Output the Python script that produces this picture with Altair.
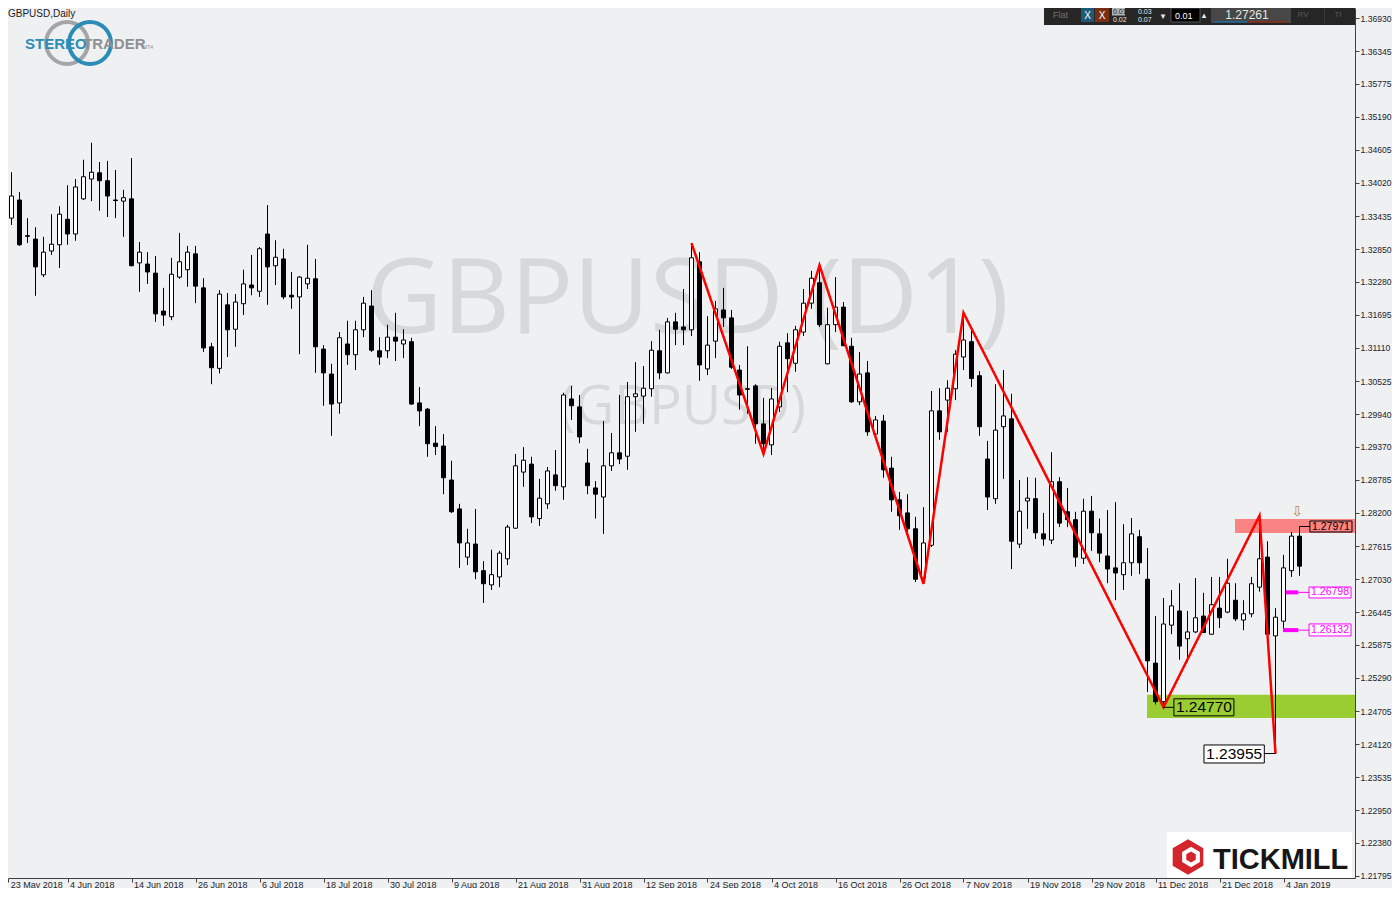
import altair as alt
import pandas as pd

# ---------------- data (GBPUSD daily) ----------------
OPEN = [1.3423, 1.3340, 1.3372, 1.3309, 1.3303, 1.3240, 1.3282, 1.3293, 1.3338, 1.3312,
        1.3374, 1.3409, 1.3420, 1.3406, 1.3372, 1.3370, 1.3374, 1.3261, 1.3259, 1.3243,
        1.3176, 1.3166, 1.3236, 1.3249, 1.3277, 1.3217, 1.3113, 1.3075, 1.3187, 1.3144,
        1.3189, 1.3222, 1.3211, 1.3312, 1.3256, 1.3268, 1.3204, 1.3201, 1.3224, 1.3233,
        1.3109, 1.3065, 1.3014, 1.3118, 1.3099, 1.3143, 1.3185, 1.3106, 1.3106, 1.3130,
        1.3118, 1.3122, 1.3014, 1.3003, 1.2943, 1.2938, 1.2878, 1.2827, 1.2742, 1.2765,
        1.2718, 1.2693, 1.2707, 1.2739, 1.2793, 1.2892, 1.2906, 1.2810, 1.2836, 1.2887,
        1.2866, 1.3021, 1.3007, 1.2908, 1.2864, 1.2848, 1.2903, 1.2926, 1.2920, 1.3025,
        1.3026, 1.3039, 1.3106, 1.3067, 1.3157, 1.3148, 1.3143, 1.3263, 1.3074, 1.3123,
        1.3178, 1.3164, 1.3072, 1.3039, 1.3044, 1.2977, 1.2940, 1.3007, 1.3120, 1.3084,
        1.3139, 1.3190, 1.3226, 1.3083, 1.3152, 1.3183, 1.3114, 1.3016, 1.3067, 1.2959,
        1.2982, 1.2899, 1.2843, 1.2820, 1.2792, 1.2705, 1.2763, 1.3000, 1.3019, 1.3039,
        1.3095, 1.3122, 1.3062, 1.2915, 1.2845, 1.2972, 1.2986, 1.2765, 1.2841, 1.2845,
        1.2783, 1.2772, 1.2875, 1.2822, 1.2808, 1.2740, 1.2823, 1.2783, 1.2744, 1.2723,
        1.2711, 1.2732, 1.2778, 1.2703, 1.2555, 1.2487, 1.2622, 1.2647, 1.2598, 1.2610,
        1.2638, 1.2606, 1.2652, 1.2645, 1.2666, 1.2631, 1.2642, 1.2689, 1.2742, 1.2603,
        1.2629, 1.2718, 1.2779]
HIGH = [1.3443, 1.3421, 1.3386, 1.3340, 1.3324, 1.3307, 1.3347, 1.3361, 1.3398, 1.3409,
        1.3443, 1.3473, 1.3439, 1.3441, 1.3425, 1.3390, 1.3446, 1.3298, 1.3280, 1.3273,
        1.3217, 1.3270, 1.3314, 1.3291, 1.3291, 1.3234, 1.3120, 1.3213, 1.3208, 1.3206,
        1.3249, 1.3275, 1.3289, 1.3363, 1.3301, 1.3286, 1.3245, 1.3238, 1.3293, 1.3268,
        1.3116, 1.3083, 1.3139, 1.3159, 1.3159, 1.3201, 1.3213, 1.3130, 1.3152, 1.3173,
        1.3144, 1.3129, 1.3042, 1.3005, 1.2973, 1.2959, 1.2912, 1.2836, 1.2792, 1.2827,
        1.2735, 1.2755, 1.2753, 1.2799, 1.2924, 1.2936, 1.2919, 1.2880, 1.2901, 1.2931,
        1.3032, 1.3044, 1.3028, 1.2933, 1.2876, 1.2982, 1.2961, 1.3028, 1.3051, 1.3086,
        1.3079, 1.3123, 1.3143, 1.3164, 1.3173, 1.3215, 1.3296, 1.3280, 1.3167, 1.3194,
        1.3217, 1.3178, 1.3081, 1.3114, 1.3047, 1.3023, 1.3040, 1.3122, 1.3137, 1.3150,
        1.3215, 1.3247, 1.3257, 1.3182, 1.3236, 1.3192, 1.3129, 1.3104, 1.3088, 1.2991,
        1.2993, 1.2919, 1.2857, 1.2853, 1.2813, 1.2830, 1.3035, 1.3040, 1.3054, 1.3107,
        1.3173, 1.3148, 1.3070, 1.2947, 1.3047, 1.3072, 1.3030, 1.2878, 1.2883, 1.2882,
        1.2820, 1.2927, 1.2883, 1.2864, 1.2822, 1.2845, 1.2850, 1.2810, 1.2825, 1.2839,
        1.2800, 1.2811, 1.2790, 1.2758, 1.2638, 1.2670, 1.2684, 1.2696, 1.2647, 1.2705,
        1.2679, 1.2707, 1.2707, 1.2739, 1.2696, 1.2666, 1.2707, 1.2815, 1.2770, 1.2652,
        1.2746, 1.2786, 1.2795]
LOW = [1.3305, 1.3328, 1.3291, 1.3296, 1.3203, 1.3236, 1.3275, 1.3252, 1.3293, 1.3300,
       1.3372, 1.3370, 1.3353, 1.3342, 1.3340, 1.3307, 1.3255, 1.3210, 1.3224, 1.3157,
       1.3150, 1.3160, 1.3233, 1.3219, 1.3190, 1.3104, 1.3047, 1.3066, 1.3095, 1.3113,
       1.3169, 1.3204, 1.3201, 1.3187, 1.3222, 1.3197, 1.3180, 1.3100, 1.3215, 1.3067,
       1.3009, 1.2956, 1.2995, 1.3081, 1.3072, 1.3130, 1.3104, 1.3081, 1.3093, 1.3088,
       1.3093, 1.3011, 1.2973, 1.2919, 1.2922, 1.2853, 1.2820, 1.2723, 1.2728, 1.2703,
       1.2661, 1.2684, 1.2689, 1.2728, 1.2792, 1.2866, 1.2802, 1.2797, 1.2827, 1.2859,
       1.2843, 1.2984, 1.2943, 1.2853, 1.2810, 1.2783, 1.2894, 1.2906, 1.2896, 1.2963,
       1.2977, 1.3025, 1.3056, 1.3066, 1.3116, 1.3116, 1.3132, 1.3053, 1.3063, 1.3093,
       1.3148, 1.3074, 1.3002, 1.2995, 1.2942, 1.2924, 1.2922, 1.2998, 1.3033, 1.3069,
       1.3132, 1.3180, 1.3148, 1.3082, 1.3139, 1.3114, 1.3014, 1.3010, 1.2956, 1.2954,
       1.2882, 1.2822, 1.2790, 1.2781, 1.2698, 1.2695, 1.2760, 1.2949, 1.2963, 1.3019,
       1.3072, 1.3042, 1.2956, 1.2825, 1.2836, 1.2880, 1.2721, 1.2758, 1.2792, 1.2774,
       1.2762, 1.2765, 1.2795, 1.2795, 1.2725, 1.2730, 1.2753, 1.2733, 1.2696, 1.2666,
       1.2684, 1.2709, 1.2712, 1.2504, 1.2482, 1.2477, 1.2606, 1.2561, 1.2557, 1.2608,
       1.2608, 1.2605, 1.2617, 1.2643, 1.2629, 1.2613, 1.2636, 1.2681, 1.2596, 1.23955,
       1.2613, 1.2707, 1.2709]
CLOSE = [1.3349, 1.3379, 1.3293, 1.3308, 1.3254, 1.3280, 1.3294, 1.3347, 1.3312, 1.3395,
         1.3413, 1.3421, 1.3406, 1.3379, 1.3371, 1.3376, 1.3256, 1.3280, 1.3245, 1.3171,
         1.3169, 1.3241, 1.3263, 1.3280, 1.3220, 1.3111, 1.3076, 1.3206, 1.3143, 1.3192,
         1.3224, 1.3217, 1.3286, 1.3254, 1.3271, 1.3201, 1.3201, 1.3236, 1.3234, 1.3113,
         1.3067, 1.3012, 1.3129, 1.3099, 1.3143, 1.3190, 1.3107, 1.3095, 1.3130, 1.3123,
         1.3125, 1.3012, 1.3000, 1.2942, 1.2937, 1.2882, 1.2822, 1.2767, 1.2767, 1.2716,
         1.2695, 1.2711, 1.2749, 1.2795, 1.2903, 1.2913, 1.2813, 1.2846, 1.2894, 1.2868,
         1.3028, 1.3009, 1.2954, 1.2868, 1.2853, 1.2903, 1.2926, 1.2915, 1.3025, 1.3030,
         1.3040, 1.3107, 1.3067, 1.3157, 1.3144, 1.3143, 1.3270, 1.3081, 1.3116, 1.3180,
         1.3164, 1.3077, 1.3028, 1.3038, 1.2977, 1.2942, 1.3021, 1.3114, 1.3092, 1.3143,
         1.3190, 1.3234, 1.3152, 1.3152, 1.3183, 1.3115, 1.3016, 1.3065, 1.2963, 1.2984,
         1.2896, 1.2843, 1.2815, 1.2792, 1.2703, 1.2767, 1.3000, 1.2963, 1.3040, 1.3100,
         1.3125, 1.3057, 1.2972, 1.2848, 1.2966, 1.2991, 1.2770, 1.2823, 1.2846, 1.2785,
         1.2774, 1.2875, 1.2802, 1.2808, 1.2742, 1.2823, 1.2785, 1.2749, 1.2721, 1.2714,
         1.2732, 1.2783, 1.2732, 1.2559, 1.2487, 1.2624, 1.2656, 1.2585, 1.2610, 1.2635,
         1.2609, 1.2658, 1.2635, 1.2696, 1.2633, 1.2642, 1.2695, 1.2739, 1.2606, 1.2636,
         1.2723, 1.2779, 1.2726]

DATE_LABELS = ["23 May 2018", "4 Jun 2018", "14 Jun 2018", "26 Jun 2018", "6 Jul 2018",
               "18 Jul 2018", "30 Jul 2018", "9 Aug 2018", "21 Aug 2018", "31 Aug 2018",
               "12 Sep 2018", "24 Sep 2018", "4 Oct 2018", "16 Oct 2018", "26 Oct 2018",
               "7 Nov 2018", "19 Nov 2018", "29 Nov 2018", "11 Dec 2018", "21 Dec 2018",
               "4 Jan 2019"]
X_TICK_POS = [0.6] + [8 * k for k in range(1, 21)]
Y_TICKS = [1.36930, 1.36345, 1.35775, 1.35190, 1.34605, 1.34020, 1.33435, 1.32850,
           1.32280, 1.31695, 1.31110, 1.30525, 1.29940, 1.29370, 1.28785, 1.28200,
           1.27615, 1.27030, 1.26445, 1.25875, 1.25290, 1.24705, 1.24120, 1.23535,
           1.22950, 1.22380, 1.21795]

ZZ_IDX = [86, 95, 102, 115, 120, 145, 157, 159]
ZZ_PRICE = [1.3296, 1.2924, 1.3257, 1.2695, 1.3173, 1.2477, 1.2815, 1.23955]

# zones: index start, price low, price high, colour
ZONE_I0 = [142.94, 153.94]
ZONE_P0 = [1.2458, 1.27845]
ZONE_P1 = [1.2499, 1.28092]
ZONE_COL = ["#9acd32", "#fa8484"]

# price label boxes
BOX_I0 = [146.3, 150.06, 163.3, 163.19, 163.19]
BOX_I1 = [153.8, 157.6, 168.56, 168.44, 168.44]
BOX_P0 = [1.2462, 1.23788, 1.27863, 1.26699, 1.26029]
BOX_P1 = [1.2492, 1.24106, 1.28057, 1.26893, 1.26241]
BOX_FILL = ["transparent", "white", "transparent", "white", "white"]
BOX_STROKE = ["black", "black", "black", "#ff00ff", "#ff00ff"]
BOX_TEXT = ["1.24770", "1.23955", "1.27971", "1.26798", "1.26132"]
BOX_TEXT_COL = ["black", "black", "black", "#ff00ff", "#ff00ff"]
BOX_FS = [15.5, 15.5, 10.5, 10.5, 10.5]
BOX_TEXT_P = [1.24770, 1.23955, 1.27960, 1.26798, 1.26132]

# magenta level markers
MAG_I0 = [160.27, 159.94]
MAG_I1 = [161.85, 161.85]
MAG_P = [1.26798, 1.26132]

# ---------------- scales / axes ----------------
W, H = 1347, 870
xs = alt.Scale(domain=[0.5625, 168.9375], nice=False, zero=False, padding=0)
ys = alt.Scale(domain=[1.217592, 1.371069], nice=False, zero=False, padding=0)

LBL_FONT = "Liberation Sans"
label_expr = "[" + ",".join("'%s'" % s for s in DATE_LABELS) + "][round(datum.value/8)]"
x_axis = alt.Axis(values=X_TICK_POS, labelExpr=label_expr, title=None, grid=False,
                  tickSize=4, labelAlign="left", labelBaseline="alphabetic", labelPadding=5,
                  labelOffset=2, labelFont=LBL_FONT, labelFontSize=9, labelColor="#1e1e2a",
                  domainColor="#404040", tickColor="#404040", labelOverlap=False,
                  labelFlush=False, labelBound=False)
y_axis = alt.Axis(orient="right", values=Y_TICKS, format=".5f", title=None, grid=False,
                  tickSize=4, labelPadding=1, labelFont=LBL_FONT, labelFontSize=8.6,
                  labelColor="#1e1e2a", domainColor="#404040", tickColor="#404040",
                  labelOverlap=False, labelFlush=False, labelBound=False)


def X(f):
    return alt.X(f, type="quantitative", scale=xs, axis=x_axis)


def Y(f):
    return alt.Y(f, type="quantitative", scale=ys, axis=y_axis)


df = pd.DataFrame({"i": list(range(len(OPEN))), "open": OPEN, "high": HIGH,
                   "low": LOW, "close": CLOSE})
ONE = pd.DataFrame({"a": [0]})


def px_text(x, y, text, size, color, font=LBL_FONT, weight="normal", align="left",
            baseline="middle"):
    return alt.Chart(ONE).mark_text(text=text, fontSize=size, color=color, font=font,
                                    fontWeight=weight, align=align,
                                    baseline=baseline).encode(x=alt.value(x), y=alt.value(y))


def px_rect(x1, y1, x2, y2, fill, stroke=None, sw=1):
    kw = dict(fill=fill)
    if stroke:
        kw.update(stroke=stroke, strokeWidth=sw)
    return alt.Chart(ONE).mark_rect(**kw).encode(x=alt.value(x1), x2=alt.value(x2),
                                                 y=alt.value(y1), y2=alt.value(y2))


def px_point(x, y, shape, size, fill=None, stroke=None, sw=1):
    kw = dict(shape=shape, size=size, opacity=1)
    if fill:
        kw.update(filled=True, fill=fill, strokeWidth=0)
    else:
        kw.update(filled=False, stroke=stroke, strokeWidth=sw)
    return alt.Chart(ONE).mark_point(**kw).encode(x=alt.value(x), y=alt.value(y))


layers = []

# watermark
layers.append(px_text(679.5, 325, "GBPUSD (D1)", 105, "#d6d8da", font="Open Sans",
                      align="center", baseline="alphabetic"))
layers.append(px_text(674.5, 416, "(GBPUSD)", 54, "#d6d8da", font="Open Sans",
                      align="center", baseline="alphabetic"))

# zones
zones = pd.DataFrame({"i0": ZONE_I0, "i1": [169.5, 169.5], "p0": ZONE_P0, "p1": ZONE_P1,
                      "col": ZONE_COL})
layers.append(alt.Chart(zones).mark_rect(clip=True).encode(
    x=X("i0"), x2="i1", y=Y("p0"), y2="p1", fill=alt.Fill("col:N", scale=None)))

# candles
layers.append(alt.Chart(df).mark_rule(color="black", strokeWidth=1, clip=True).encode(
    x=X("i"), y=Y("low"), y2="high"))
layers.append(alt.Chart(df).mark_bar(width=4, stroke="black", strokeWidth=1,
                                     orient="vertical", clip=True).encode(
    x=X("i"), y=Y("open"), y2="close",
    fill=alt.condition("datum.close >= datum.open", alt.value("white"), alt.value("black"))))

# zigzag
zz = pd.DataFrame({"zi": ZZ_IDX, "zp": ZZ_PRICE})
layers.append(alt.Chart(zz).mark_line(color="#ff0000", strokeWidth=2.5).encode(
    x=X("zi"), y=Y("zp"), order="zi:Q"))

# connectors
conn = pd.DataFrame({
    "g": [0, 0, 1, 1, 2, 2, 2],
    "k": [0, 1, 0, 1, 0, 1, 2],
    "ci": [145, 146.3, 157.6, 159, 162, 162, 163.3],
    "cp": [1.2477, 1.2477, 1.23955, 1.23955, 1.27845, 1.27960, 1.27960]})
layers.append(alt.Chart(conn).mark_line(color="black", strokeWidth=1).encode(
    x=X("ci"), y=Y("cp"), detail="g:N", order="k:Q"))

# magenta levels
mag = pd.DataFrame({"m0": MAG_I0, "m1": MAG_I1, "mp": MAG_P})
layers.append(alt.Chart(mag).mark_rule(color="#ff00ff", strokeWidth=4).encode(
    x=X("m0"), x2="m1", y=Y("mp")))
mag2 = pd.DataFrame({"m0": MAG_I1, "m1": [163.19, 163.19], "mp": MAG_P})
layers.append(alt.Chart(mag2).mark_rule(color="#ff00ff", strokeWidth=1).encode(
    x=X("m0"), x2="m1", y=Y("mp")))

# label boxes + texts
boxes = pd.DataFrame({"b0": BOX_I0, "b1": BOX_I1, "q0": BOX_P0, "q1": BOX_P1,
                      "fill": BOX_FILL, "stroke": BOX_STROKE})
layers.append(alt.Chart(boxes).mark_rect(strokeWidth=1).encode(
    x=X("b0"), x2="b1", y=Y("q0"), y2="q1",
    fill=alt.Fill("fill:N", scale=None), stroke=alt.Stroke("stroke:N", scale=None)))
labs = pd.DataFrame({"li": [(a + b) / 2 for a, b in zip(BOX_I0, BOX_I1)], "lp": BOX_TEXT_P,
                     "txt": BOX_TEXT, "col": BOX_TEXT_COL, "fs": BOX_FS})
layers.append(alt.Chart(labs).mark_text(font=LBL_FONT, align="center", baseline="middle").encode(
    x=X("li"), y=Y("lp"), text="txt:N", color=alt.Color("col:N", scale=None),
    size=alt.Size("fs:Q", scale=None)))

# arrow
arr = pd.DataFrame({"ai": [161.7], "ap": [1.2822], "t": ["\u21e9"]})
layers.append(alt.Chart(arr).mark_text(font="DejaVu Sans", fontSize=14, color="#b8884a").encode(
    x=X("ai"), y=Y("ap"), text="t:N"))

# ---------------- decorations ----------------
layers.append(px_text(0, 1, "GBPUSD,Daily", 10, "#1a1a1a", baseline="top"))

# StereoTrader logo
layers.append(px_point(59, 35, "circle", 1764, stroke="#a3a5a7", sw=4))
layers.append(px_point(82, 35, "circle", 1764, stroke="#2b8db6", sw=4))
layers.append(px_text(17, 41, "STEREO", 15, "#2b8db6", weight="bold", baseline="alphabetic"))
layers.append(px_text(75, 41, "TRADER", 15, "#8e9092", weight="bold", baseline="alphabetic"))
layers.append(px_text(135, 41, "MT4", 5, "#8e9092", baseline="alphabetic"))

# Tickmill logo
HEX = "M0,-1L0.866,-0.5L0.866,0.5L0,1L-0.866,0.5L-0.866,-0.5Z"
layers.append(px_rect(1159, 824, 1344, 870, "white"))
layers.append(px_point(1180, 849, HEX, 1250, fill="#d4252c"))
layers.append(px_point(1183, 849, HEX, 420, fill="white"))
layers.append(px_point(1183, 849, HEX, 120, fill="#d4252c"))
layers.append(px_text(1205, 861, "TICKMILL", 29, "#161616", weight="bold", baseline="alphabetic"))

# top-right trading widget
layers.append(px_rect(1036, 0, 1347, 17, "#262626"))
layers.append(px_text(1045, 7, "Flat", 9, "#707070"))
layers.append(px_rect(1073, 0, 1086, 14, "#1c5a78"))
layers.append(px_text(1079.5, 7.5, "X", 10, "white", align="center"))
layers.append(px_rect(1087, 0, 1101, 14, "#7a2e14"))
layers.append(px_text(1094, 7.5, "X", 10, "white", align="center"))
layers.append(px_rect(1104, 0, 1117, 7.5, "#b4b4b4"))
layers.append(px_text(1105, 4.2, "0.01", 7, "#202020"))
layers.append(px_text(1105, 12.2, "0.02", 7, "#e8e8e8"))
layers.append(px_text(1130, 4.2, "0.03", 7, "#e8e8e8"))
layers.append(px_text(1130, 12.2, "0.07", 7, "#e8e8e8"))
layers.append(px_text(1155, 8, "\u25be", 9, "#e8e8e8", font="DejaVu Sans", align="center"))
layers.append(px_rect(1163, 0, 1192, 14, "#000000", stroke="#555555"))
layers.append(px_text(1167, 7.5, "0.01", 9, "white"))
layers.append(px_text(1196, 7, "\u25b4", 9, "#e8e8e8", font="DejaVu Sans", align="center"))
layers.append(px_rect(1203, 0, 1283, 15, "#474747"))
layers.append(px_text(1239, 6.5, "1.27261", 12, "#e6e6e6", align="center"))
layers.append(px_rect(1205, 13, 1239, 14.5, "#1a6a9c"))
layers.append(px_rect(1240, 13, 1279, 14.5, "#8b2a14"))
layers.append(px_text(1295, 7, "RV", 8, "#5a5a5a", align="center"))
layers.append(px_rect(1316, 0, 1317, 15, "#3a3a3a"))
layers.append(px_text(1330, 7, "TI", 8, "#5a5a5a", align="center"))

chart = alt.layer(*layers).properties(
    width=W, height=H,
    padding={"left": 0, "top": 0, "right": 37, "bottom": 10},
    autosize=alt.AutoSizeParams(type="none"),
    background="#eef0f2",
).configure_view(stroke=None)

chart.save("out.html", embed_options={"renderer": "svg", "actions": False})
